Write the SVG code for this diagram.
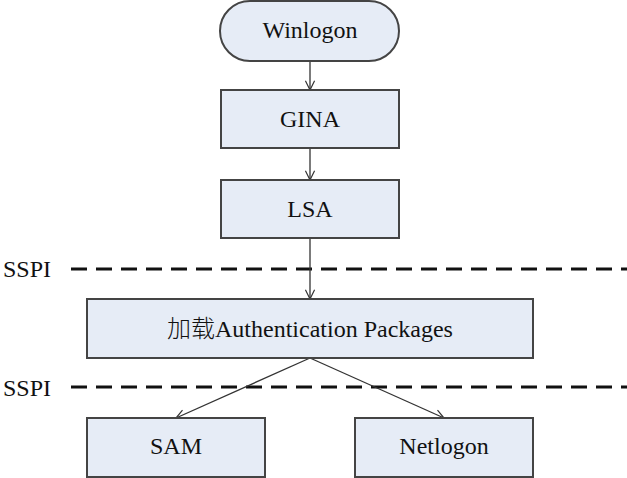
<svg xmlns="http://www.w3.org/2000/svg" width="627" height="478" viewBox="0 0 627 478">
<style>
.box{fill:#e6ecf6;stroke:#444;stroke-width:2}
.t{font-family:'Liberation Serif','Times New Roman',serif;font-size:24px;fill:#111;text-anchor:middle}
.cjk{font-family:'Noto Sans CJK SC',sans-serif;font-weight:300}
.s{font-family:'Liberation Serif','Times New Roman',serif;font-size:24px;fill:#111}
.c{stroke:#333;stroke-width:1.3;fill:none}
.d{stroke:#111;stroke-width:3;stroke-dasharray:16 9;fill:none}
</style>
<defs>
<marker id="arr" viewBox="0 0 12 12" refX="11" refY="6" markerWidth="11" markerHeight="11" markerUnits="userSpaceOnUse" orient="auto">
<path d="M1,1 L11,6 L1,11" fill="none" stroke="#333" stroke-width="1.3"/>
</marker>
</defs>
<rect width="627" height="478" fill="#fff"/>
<g id="sspi1"><text class="s" x="3" y="277">SSPI</text><line class="d" x1="71" y1="269" x2="627" y2="269"/></g>
<g id="sspi2"><text class="s" x="3" y="396">SSPI</text><line class="d" x1="71" y1="387" x2="627" y2="387"/></g>
<g id="connectors">
<line class="c" x1="310" y1="61" x2="310" y2="90" marker-end="url(#arr)"/>
<line class="c" x1="310" y1="148" x2="310" y2="180" marker-end="url(#arr)"/>
<line class="c" x1="310" y1="238" x2="310" y2="299" marker-end="url(#arr)"/>
<line class="c" x1="310" y1="358" x2="176" y2="418" marker-end="url(#arr)"/>
<line class="c" x1="310" y1="358" x2="444" y2="418" marker-end="url(#arr)"/>
</g>
<g id="winlogon"><rect class="box" x="220" y="1" width="179" height="60" rx="30"/><text class="t" x="310" y="38">Winlogon</text></g>
<g id="gina"><rect class="box" x="221" y="90" width="178" height="58"/><text class="t" x="310" y="127">GINA</text></g>
<g id="lsa"><rect class="box" x="221" y="180" width="178" height="58"/><text class="t" x="310" y="217">LSA</text></g>
<g id="auth"><rect class="box" x="87" y="299" width="446" height="59"/><text class="t" x="310" y="337"><tspan class="cjk">加载</tspan>Authentication Packages</text></g>
<g id="sam"><rect class="box" x="87" y="418" width="178" height="59"/><text class="t" x="176" y="454">SAM</text></g>
<g id="netlogon"><rect class="box" x="355" y="418" width="178" height="59"/><text class="t" x="444" y="454">Netlogon</text></g>
</svg>
